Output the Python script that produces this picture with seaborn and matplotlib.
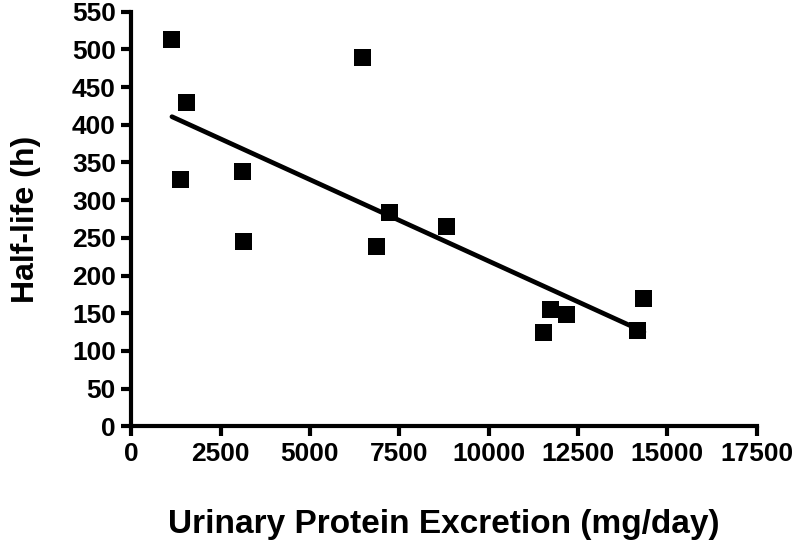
import matplotlib
matplotlib.use("Agg")
import matplotlib.pyplot as plt
import seaborn as sns
import pandas as pd

# urinary protein excretion (mg/day) vs half-life (h)
protein = [1140, 1557, 1389, 3112, 3150, 6467, 7222, 6859, 8816, 11722, 12189, 11546, 14342, 14174]
half_life = [513, 429, 328, 338, 245, 489, 284, 238, 265, 155, 149, 124, 170, 127]
x_ticks = [0, 2500, 5000, 7500, 10000, 12500, 15000, 17500]
y_ticks = list(range(0, 551, 50))

df = pd.DataFrame({"protein": protein, "half_life": half_life})

sns.set_style("ticks")
plt.rcParams["font.family"] = ["Liberation Sans", "DejaVu Sans"]
plt.rcParams["font.weight"] = "bold"
for k in ["text.color", "axes.labelcolor", "xtick.color", "ytick.color", "axes.edgecolor"]:
    plt.rcParams[k] = "black"

fig = plt.figure(figsize=(8, 5.45), dpi=100)
ax = fig.add_axes([0.164, 0.2176, 0.782, 0.761])

sns.regplot(data=df, x="protein", y="half_life", ax=ax, ci=None,
            marker="s", color="black",
            scatter_kws={"s": 150, "edgecolor": "none", "alpha": 1, "zorder": 3},
            line_kws={"lw": 3.4, "color": "black"})

ax.set_xlim(0, 17500)
ax.set_ylim(0, 550)
ax.set_xticks(x_ticks)
ax.set_yticks(y_ticks)
for s in ["left", "bottom"]:
    ax.spines[s].set_linewidth(3)
sns.despine(ax=ax)
ax.tick_params(width=3, length=7, labelsize=19, pad=4)
ax.set_xlabel("Urinary Protein Excretion (mg/day)", fontsize=24, fontweight="bold", labelpad=31)
ax.set_ylabel("Half-life (h)", fontsize=23, fontweight="bold", labelpad=22)
for lab in ax.get_xticklabels() + ax.get_yticklabels():
    lab.set_fontweight("bold")

fig.savefig("out.png", dpi=100)
